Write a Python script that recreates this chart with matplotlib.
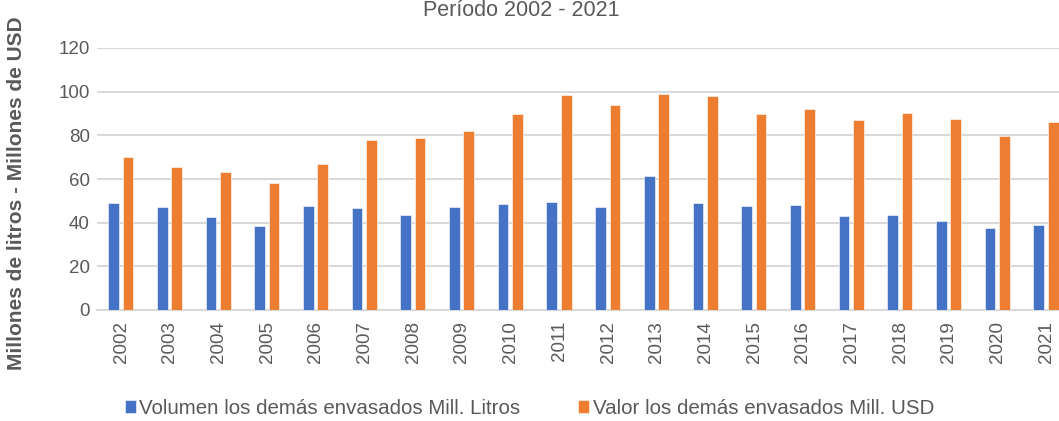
import numpy as np
import matplotlib.pyplot as plt

plt.rcParams['font.family'] = ['Liberation Sans', 'DejaVu Sans']

years = [str(y) for y in range(2002, 2022)]
volumen = [49.2, 47.2, 42.6, 38.5, 47.8, 46.6, 43.4, 47.0, 48.4, 49.3,
           47.2, 61.2, 49.0, 47.5, 47.9, 43.1, 43.5, 40.9, 37.6, 38.9]
valor = [69.9, 65.5, 63.1, 58.3, 66.7, 77.9, 78.8, 82.1, 89.9, 98.7,
         93.7, 98.8, 98.2, 89.8, 92.1, 87.0, 90.1, 87.6, 79.7, 86.3]

azul = '#4472C4'
naranja = '#ED7D31'
gris = '#595959'

fig = plt.figure(figsize=(10.59, 4.21), dpi=100)
ax = fig.add_axes([96.7/1059, 111/421, 974/1059, 262/421])

x = np.arange(len(years))
w = 0.22
ax.bar(x - 0.155, volumen, w, color=azul, edgecolor='white', linewidth=0.4, label='Volumen los demás envasados Mill. Litros', zorder=3)
ax.bar(x + 0.14, valor, w, color=naranja, edgecolor='white', linewidth=0.4, label='Valor los demás envasados Mill. USD', zorder=3)

ax.set_xlim(-0.5, len(years) - 0.5)
ax.set_ylim(0, 120)
ax.set_yticks(range(0, 121, 20))
ax.set_xticks(x)
ax.set_xticklabels(years, rotation=90, fontsize=13.5, color=gris)
ax.tick_params(axis='y', labelsize=13.5, labelcolor=gris, length=0, pad=5)
ax.tick_params(axis='x', length=0, pad=8)
ax.grid(axis='y', color='#D9D9D9', linewidth=1.5, zorder=0)
for s in ['top', 'right', 'left']:
    ax.spines[s].set_visible(False)
ax.spines['bottom'].set_color('#D9D9D9')
ax.spines['bottom'].set_linewidth(1.5)

ax.set_ylabel('Millones de litros - Millones de USD', fontsize=15, fontweight='bold', color=gris)
ax.yaxis.set_label_coords(-0.073, 0.445)

fig.text(0.492, 0.975, 'Período 2002 - 2021', ha='center', va='center', fontsize=15.5, color=gris)

fig.legend(loc='center', bbox_to_anchor=(0.5, 0.03), ncol=2, frameon=False,
           fontsize=14.8, handlelength=0.55, handleheight=0.55, handletextpad=0.15,
           columnspacing=2.8, labelcolor=gris)

fig.savefig('out.png', dpi=100)
